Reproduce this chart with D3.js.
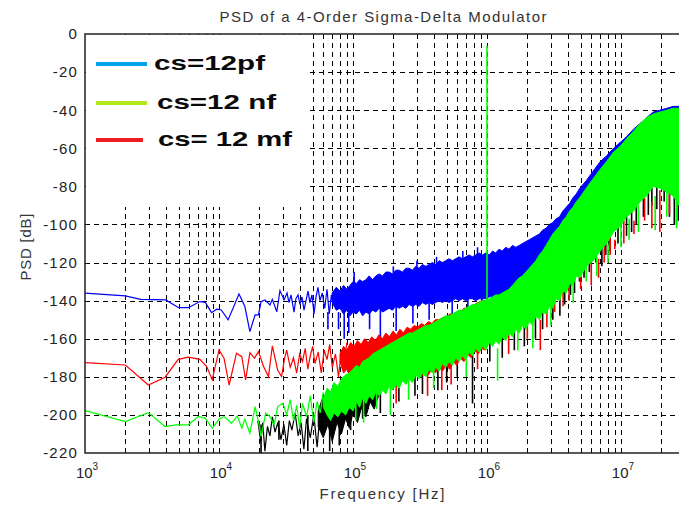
<!DOCTYPE html>
<html>
<head>
<meta charset="utf-8">
<script src="https://cdn.jsdelivr.net/npm/d3@7"></script>
<style>
  body { margin: 0; background: #fff; }
  svg { display: block; font-family: "Liberation Sans", Arial, sans-serif; }
</style>
</head>
<body>
<svg id="chart" width="679" height="505"></svg>
<script>
// low frequency traces [Hz, dB]
const blueLine = [[1000,-136.1],[2000,-137.5],[2600,-139.3],[4000,-139.6],[5000,-143.7],[5900,-143.7],[7200,-140.5],[7900,-140.9],[8800,-146.3],[9600,-144.5],[10400,-144.9],[11700,-150.1],[14100,-136.5],[15600,-143.1],[17000,-156.3],[18600,-147.5],[19700,-147.5],[20600,-140.5],[22000,-139.6],[24000,-142.3],[25000,-139.3],[27000,-145.8],[28500,-134.7],[30600,-139.6],[32200,-136],[33300,-141],[34500,-137],[36300,-146],[37500,-139],[38900,-137],[40200,-142],[41600,-138],[43100,-145],[44600,-140],[46200,-135],[47700,-141],[49400,-137],[51200,-147],[53000,-138],[54800,-133],[56700,-140],[59000,-136],[61500,-144],[64000,-134],[66500,-147],[69000,-137],[71000,-142]];
const redLine = [[1000,-172.5],[2000,-173.8],[2970,-184.3],[3960,-180.2],[4960,-170.8],[5900,-169.7],[7200,-170.8],[8100,-174.6],[8900,-181.6],[10000,-165.9],[10900,-170.2],[11900,-184.3],[13500,-167.6],[14800,-169.4],[15800,-181.6],[17000,-167.3],[18400,-170.2],[19700,-166.8],[21500,-174.6],[23400,-179.9],[25000,-163.8],[27400,-176.4],[29300,-179.9],[31000,-169.7],[32000,-166],[34000,-175],[36000,-170],[38000,-178],[40000,-168],[42000,-172],[44000,-165],[46000,-176],[48000,-169],[50000,-164],[52000,-173],[55000,-167],[58000,-178],[61000,-166],[64000,-171],[67000,-163],[70000,-175],[74000,-168],[78000,-180],[82000,-166],[86000,-172],[90000,-162]];
const greenLine = [[1000,-197.7],[2000,-203.5],[2970,-198.8],[3960,-206.1],[4800,-205.2],[5900,-205.2],[7000,-200.9],[7900,-201.7],[8900,-207],[10000,-202.3],[10900,-200.9],[12400,-204.4],[13700,-200.5],[14800,-207],[15600,-202.3],[17000,-209.6],[18600,-195.6],[19700,-203.5],[20600,-211.4],[22300,-199.1],[24000,-200.9],[25800,-205.2],[27400,-195.6],[30000,-193.9],[32000,-200],[34000,-192],[36000,-203],[38000,-195],[40000,-207],[42000,-194],[45000,-201],[48000,-190],[51000,-204],[54000,-193],[57000,-199],[60000,-188]];
const blackLine = [[19500,-203],[20500,-214],[21200,-204],[22000,-219],[23000,-206],[24000,-211],[25000,-201],[26200,-209],[27500,-204],[29000,-213],[30500,-205],[32000,-216],[33500,-203],[35000,-208],[37000,-199],[39000,-211],[41000,-204],[43000,-218],[45000,-202],[48000,-212],[51000,-200],[54000,-217],[57000,-198],[60000,-206]];

// dense noise envelopes [Hz, upper dB, lower dB]
const blueBand = [[7.0e4,-136,-141],[7.5e4,-133,-145],[8.0e4,-135,-144],[8.5e4,-132,-147],[9.0e4,-134,-145],[9.5e4,-132,-148],[1.0e5,-130,-146],[1.06e5,-131,-147],[1.12e5,-129,-145],[1.18e5,-130,-148],[1.25e5,-129,-146],[1.32e5,-127,-147],[1.4e5,-129,-145],[1.48e5,-127,-146],[1.57e5,-126,-144],[1.66e5,-127,-146],[1.76e5,-125,-145],[1.86e5,-125,-144],[1.97e5,-126,-145],[2.09e5,-124,-143],[2.21e5,-124,-144],[2.34e5,-125,-143],[2.48e5,-123,-144],[2.62e5,-123,-142],[2.78e5,-124,-143],[2.94e5,-122,-142],[3.11e5,-123,-143],[3.3e5,-121,-141],[3.49e5,-122,-142],[3.7e5,-121,-141],[3.91e5,-120,-142],[4.14e5,-121,-141],[4.39e5,-119,-140],[4.65e5,-120,-141],[4.92e5,-119,-140],[5.21e5,-118,-141],[5.52e5,-119,-140],[5.84e5,-118,-139],[6.19e5,-117,-140],[6.55e5,-118,-139],[6.94e5,-117,-140],[7.35e5,-116,-139],[7.78e5,-117,-139],[8.24e5,-116,-140],[8.73e5,-115,-139],[9.25e5,-116,-139],[9.8e5,-115,-139],[1.04e6,-116,-138],[1.1e6,-114,-138],[1.16e6,-115,-138],[1.23e6,-113,-137],[1.3e6,-114,-137],[1.38e6,-112,-136],[1.46e6,-113,-136],[1.55e6,-111,-135],[1.64e6,-112,-134],[1.74e6,-111,-133],[1.84e6,-110,-132],[1.95e6,-109,-131],[2.07e6,-108,-129],[2.19e6,-107,-128],[2.32e6,-106,-126],[2.46e6,-105,-124],[2.6e6,-103,-122],[2.76e6,-102,-120],[2.92e6,-100,-118],[3.1e6,-99,-116],[3.28e6,-97,-114],[3.48e6,-96,-112],[3.68e6,-93,-110],[3.9e6,-91,-108],[4.13e6,-89,-106],[4.38e6,-86,-104],[4.64e6,-84,-101],[4.92e6,-81,-98],[5.5e6,-77,-94],[6.2e6,-72,-88],[7.0e6,-67,-82],[7.8e6,-64,-79],[8.8e6,-60,-74],[9.84e6,-57,-70],[1.1e7,-54,-67],[1.24e7,-50,-63],[1.39e7,-47,-60],[1.55e7,-44,-57],[1.74e7,-41,-55],[1.95e7,-40,-55],[2.2e7,-39,-55],[2.45e7,-38,-55],[2.71e7,-38,-55]];
const blackBand = [[5.5e4,-198,-206],[6.0e4,-190,-212],[6.5e4,-192,-205],[7.0e4,-187,-214],[7.6e4,-189,-204],[8.2e4,-184,-210],[8.8e4,-186,-202],[9.4e4,-182,-207],[1.0e5,-180,-199],[1.08e5,-178,-204],[1.16e5,-175,-196],[1.25e5,-173,-201],[1.34e5,-171,-193],[1.44e5,-169,-197],[1.55e5,-167,-190]];
const redBand = [[8.0e4,-168,-172],[8.5e4,-164,-178],[9.0e4,-166,-176],[9.6e4,-162,-180],[1.02e5,-164,-178],[1.08e5,-161,-183],[1.15e5,-163,-180],[1.22e5,-160,-185],[1.3e5,-162,-182],[1.38e5,-159,-186],[1.47e5,-161,-183],[1.56e5,-158,-186],[1.66e5,-160,-183],[1.76e5,-157,-185],[1.87e5,-159,-182],[1.99e5,-156,-184],[2.11e5,-158,-181],[2.24e5,-155,-183],[2.38e5,-157,-180],[2.53e5,-154,-182],[2.69e5,-155,-179],[2.86e5,-153,-181],[3.04e5,-154,-178],[3.23e5,-152,-180],[3.43e5,-153,-177],[3.65e5,-151,-179],[3.88e5,-152,-176],[4.12e5,-150,-178],[4.38e5,-150,-175],[4.66e5,-149,-177],[4.95e5,-149,-174],[5.26e5,-147,-176],[5.6e5,-147,-172],[5.95e5,-146,-174],[6.32e5,-146,-170],[6.72e5,-144,-172],[7.14e5,-144,-168],[7.6e5,-143,-170],[8.08e5,-142,-166],[8.6e5,-141,-168],[9.1e5,-140,-165],[9.7e5,-140,-166]];
const greenBand = [[6.0e4,-192,-196],[6.4e4,-186,-200],[6.8e4,-188,-203],[7.2e4,-183,-199],[7.7e4,-185,-201],[8.2e4,-181,-198],[8.8e4,-179,-200],[9.4e4,-178,-196],[1.0e5,-176,-198],[1.06e5,-174,-193],[1.12e5,-175,-196],[1.18e5,-172,-191],[1.25e5,-171,-194],[1.32e5,-170,-190],[1.4e5,-168,-192],[1.48e5,-167,-188],[1.57e5,-166,-190],[1.66e5,-165,-187],[1.76e5,-164,-189],[1.86e5,-163,-185],[1.97e5,-162,-187],[2.09e5,-161,-184],[2.21e5,-160,-186],[2.34e5,-159,-182],[2.48e5,-158,-184],[2.62e5,-157,-181],[2.78e5,-157,-183],[2.94e5,-156,-179],[3.11e5,-155,-181],[3.3e5,-154,-178],[3.49e5,-153,-180],[3.7e5,-153,-176],[3.91e5,-152,-178],[4.14e5,-151,-175],[4.39e5,-150,-177],[4.65e5,-149,-173],[4.92e5,-148,-175],[5.21e5,-148,-172],[5.52e5,-147,-174],[5.84e5,-146,-170],[6.19e5,-145,-172],[6.55e5,-145,-169],[6.94e5,-144,-171],[7.35e5,-143,-167],[7.78e5,-142,-169],[8.24e5,-142,-165],[8.73e5,-141,-167],[9.25e5,-140,-164],[9.8e5,-140,-166],[1.04e6,-139,-162],[1.1e6,-138,-164],[1.16e6,-137,-161],[1.23e6,-137,-163],[1.3e6,-136,-159],[1.38e6,-135,-161],[1.46e6,-134,-157],[1.55e6,-132,-159],[1.64e6,-130,-155],[1.74e6,-128,-157],[1.84e6,-127,-153],[1.95e6,-125,-155],[2.07e6,-123,-151],[2.19e6,-121,-153],[2.32e6,-119,-148],[2.46e6,-116,-150],[2.6e6,-114,-146],[2.76e6,-111,-147],[2.92e6,-108,-143],[3.1e6,-105,-144],[3.28e6,-103,-139],[3.48e6,-101,-140],[3.68e6,-98,-135],[3.9e6,-96,-136],[4.13e6,-93,-131],[4.38e6,-91,-132],[4.64e6,-88,-127],[4.92e6,-86,-128],[5.5e6,-81,-122],[6.2e6,-76,-119],[7.0e6,-71,-114],[7.8e6,-67,-110],[8.8e6,-62,-104],[9.84e6,-59,-101],[1.1e7,-55,-96],[1.24e7,-51,-93],[1.39e7,-47,-88],[1.55e7,-44,-85],[1.74e7,-42,-80],[1.95e7,-41,-81],[2.2e7,-40,-83],[2.45e7,-39,-85],[2.71e7,-39,-90]];

// isolated spikes [Hz, top dB, bottom dB]
const blueSpikes = [[6.5e4,-146,-155],[7.8e4,-146,-155],[8.6e4,-145,-160],[9.3e4,-146,-157],[1.02e5,-125,-132],[1.33e5,-145,-155],[1.6e5,-144,-160],[2.0e5,-122,-128],[2.1e5,-143,-156],[2.8e5,-142,-152],[3.0e5,-119,-125],[3.7e5,-141,-150],[4.2e5,-117,-124],[5.5e5,-140,-151],[6.6e5,-114,-120],[7.2e5,-139,-148],[8.5e5,-112,-118],[9.2e5,-139,-146]];
const blackSpikes = [[2.06e4,-205,-220],[2.8e4,-203,-213],[4.6e4,-200,-219],[6.7e4,-198,-219],[7.9e4,-196,-216],[9.6e4,-190,-208],[1.18e5,-185,-202],[1.3e5,-188,-197],[1.6e5,-185,-199],[2.2e5,-182,-193],[2.9e5,-178,-190],[3.3e5,-176,-189],[4.3e5,-172,-187],[5.0e5,-170,-183],[6.0e5,-168,-180],[7.8e5,-165,-194],[1.05e6,-162,-172],[1.3e6,-158,-170],[1.6e6,-155,-166],[1.9e6,-150,-164],[2.3e6,-145,-160],[2.6e6,-142,-155],[3.1e6,-135,-150],[3.5e6,-135,-148],[3.8e6,-131,-142],[4.2e6,-125,-137],[4.5e6,-122,-136],[4.9e6,-118,-130],[5.3e6,-116,-128],[5.8e6,-112,-125],[6.5e6,-108,-120],[7.2e6,-108,-122],[7.7e6,-104,-116],[8.3e6,-100,-114],[9.5e6,-98,-110],[1.1e7,-92,-106],[1.2e7,-93,-104],[1.3e7,-88,-100],[1.47e7,-85,-96],[1.6e7,-80,-95],[1.7e7,-78,-90],[1.85e7,-78,-92],[2.1e7,-76,-88],[2.3e7,-80,-96],[2.5e7,-85,-100],[2.68e7,-80,-98]];
const redSpikes = [[1.4e5,-183,-192],[2.1e5,-183,-194],[3.6e5,-175,-190],[4.6e5,-171,-187],[5.4e5,-172,-184],[8.5e5,-163,-176],[1.45e6,-157,-168],[2.0e6,-152,-160],[2.5e6,-150,-166],[2.8e6,-142,-154],[3.2e6,-136,-146],[3.7e6,-134,-143],[4.1e6,-130,-140],[5.0e6,-124,-134],[6.0e6,-119,-132],[6.8e6,-118,-128],[7.5e6,-106,-120],[8.3e6,-106,-116],[9.0e6,-108,-113],[1.05e7,-98,-110],[1.25e7,-98,-105],[1.5e7,-86,-98],[1.7e7,-88,-102],[1.95e7,-82,-104],[2.3e7,-83,-95],[2.6e7,-88,-100]];
const greenSpikes = [[1.05e5,-193,-203],[1.2e5,-190,-204],[1.5e5,-187,-197],[1.9e5,-184,-200],[2.6e5,-180,-192],[4.0e5,-175,-186],[7.0e5,-169,-180],[1.2e6,-165,-182],[1.7e6,-155,-166],[2.2e6,-152,-165],[3.0e6,-143,-153],[4.4e6,-131,-141],[5.5e6,-119,-130],[6.6e6,-117,-127],[8.0e6,-110,-120],[1.0e7,-100,-112],[1.15e7,-97,-108],[1.35e7,-90,-104],[1.8e7,-85,-103],[2.2e7,-82,-96],[2.6e7,-88,-102]];
const toneLine = [[1e6,-6,-140]];

const yTicks = [0,-20,-40,-60,-80,-100,-120,-140,-160,-180,-200,-220];
const xDecades = [3,4,5,6,7];
const legendItems = [
  { label: "cs=12pf", color: "#00a2e8" },
  { label: "cs=12 nf", color: "#b5e61d" },
  { label: "cs= 12 mf", color: "#ed1c24" }
];

const svg = d3.select("#chart");
const pL = 85, pT = 34, pR = 679, pB = 453;

const x = d3.scaleLog().domain([1e3, 2.71e7]).range([pL, pR]);
const y = d3.scaleLinear().domain([-220, 0]).range([pB, pT]);

svg.append("defs").append("clipPath").attr("id", "plot")
  .append("rect").attr("x", pL).attr("y", pT)
  .attr("width", pR - pL).attr("height", pB - pT);

// grid
const minorF = [];
xDecades.forEach(d => { for (let m = 1; m < 10; m++) { const f = m * Math.pow(10, d); if (f > 1e3 && f < 2.71e7) minorF.push(f); } });
const grid = svg.append("g").attr("stroke", "#000").attr("stroke-width", 1)
  .attr("stroke-dasharray", "5,4").attr("fill", "none");
grid.selectAll("line.v").data(minorF).enter().append("line")
  .attr("x1", d => Math.round(x(d)) + 0.5).attr("x2", d => Math.round(x(d)) + 0.5)
  .attr("y1", pT).attr("y2", pB);
grid.selectAll("line.h").data(yTicks.filter(t => t < 0 && t > -220)).enter().append("line")
  .attr("y1", d => Math.round(y(d)) + 0.5).attr("y2", d => Math.round(y(d)) + 0.5)
  .attr("x1", pL).attr("x2", pR);

// legend background hides grid
svg.append("rect").attr("x", pL + 1).attr("y", pT + 1).attr("width", 223).attr("height", 172).attr("fill", "#fff");

const plot = svg.append("g").attr("clip-path", "url(#plot)");

const line = d3.line().x(d => x(d[0])).y(d => y(d[1]));
const band = d3.area().x(d => x(d[0])).y0(d => y(d[2])).y1(d => y(d[1]));

function spikes(data, color, w) {
  plot.append("g").selectAll("line").data(data).enter().append("line")
    .attr("x1", d => x(d[0])).attr("x2", d => x(d[0]))
    .attr("y1", d => y(d[1])).attr("y2", d => y(d[2]))
    .attr("stroke", color).attr("stroke-width", w);
}
function trace(lineData, bandData, spikeData, color) {
  plot.append("path").datum(lineData).attr("d", line)
    .attr("fill", "none").attr("stroke", color).attr("stroke-width", 1.2);
  plot.append("path").datum(bandData).attr("d", band)
    .attr("fill", color).attr("stroke", color).attr("stroke-width", 1)
    .attr("stroke-linejoin", "round");
  spikes(spikeData, color, 1.6);
}

trace(blueLine, blueBand, blueSpikes, "#0000ff");
trace(blackLine, blackBand, blackSpikes, "#000000");
trace(redLine, redBand, redSpikes, "#ff0000");
trace(greenLine, greenBand, greenSpikes, "#00ff00");
spikes(toneLine, "#00ff00", 1.6);

// axes box
svg.append("path")
  .attr("d", `M${pR},${pT}H${pL}V${pB}H${pR}`)
  .attr("fill", "none").attr("stroke", "#222").attr("stroke-width", 1.5);

// y tick labels
svg.append("g").selectAll("text").data(yTicks).enter().append("text")
  .attr("x", 78).attr("y", d => y(d)).attr("dy", "0.36em")
  .attr("text-anchor", "end").attr("font-size", 15).attr("letter-spacing", 1.2)
  .attr("fill", "#222").text(d => d);

// x tick labels
const xl = svg.append("g").selectAll("text").data(xDecades).enter().append("text")
  .attr("x", d => x(Math.pow(10, d)) + 2).attr("y", 478)
  .attr("text-anchor", "middle").attr("font-size", 15).attr("fill", "#222");
xl.append("tspan").text("10");
xl.append("tspan").attr("dy", -8).attr("font-size", 10).text(d => d);

// titles
svg.append("text").attr("x", 383).attr("y", 22).attr("text-anchor", "middle")
  .attr("font-size", 15).attr("fill", "#333").attr("textLength", 327)
  .attr("lengthAdjust", "spacing").text("PSD of a 4-Order Sigma-Delta Modulator");
svg.append("text").attr("x", 382).attr("y", 499).attr("text-anchor", "middle")
  .attr("font-size", 15).attr("fill", "#333").attr("textLength", 125)
  .attr("lengthAdjust", "spacing").text("Frequency [Hz]");
svg.append("text").attr("transform", "translate(31,247) rotate(-90)")
  .attr("text-anchor", "middle").attr("font-size", 15).attr("fill", "#333")
  .attr("textLength", 67).attr("lengthAdjust", "spacing").text("PSD [dB]");

// legend
const legendY = [64, 103, 140];
const legendTextX = [154, 157, 158];
const legendTextW = [111, 119, 134];
const lg = svg.append("g").selectAll("g").data(legendItems).enter().append("g");
lg.append("line").attr("x1", 96).attr("x2", (d, i) => i === 2 ? 143 : 147)
  .attr("y1", (d, i) => legendY[i]).attr("y2", (d, i) => legendY[i])
  .attr("stroke", d => d.color).attr("stroke-width", 4);
lg.append("text").attr("x", (d, i) => legendTextX[i]).attr("y", (d, i) => legendY[i] + 6)
  .attr("font-size", 21).attr("font-weight", "bold").attr("fill", "#0a0a0a")
  .attr("textLength", (d, i) => legendTextW[i]).attr("lengthAdjust", "spacingAndGlyphs")
  .text(d => d.label);
</script>
</body>
</html>
